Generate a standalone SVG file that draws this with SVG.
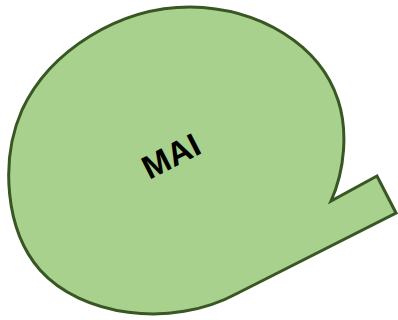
<svg xmlns="http://www.w3.org/2000/svg" width="398" height="320" viewBox="0 0 398 320">
<style>
.shape{fill:#a9d18e;stroke:#385723;stroke-width:3;stroke-linejoin:miter}
.lbl{font-family:"Liberation Sans",Arial,sans-serif;font-weight:bold;font-size:33px;fill:#000}
</style>
<g id="callout">
<path class="shape" d="M 331,201 C 345,170 348,130 338,100 C 320,45 260,8 190,7 C 120,7 50,50 22,110 C 0,160 5,230 40,270 C 80,315 170,330 238,293 L 396,213 L 377,176 Z"/>
<text class="lbl" x="171" y="156" text-anchor="middle" dominant-baseline="central" transform="rotate(-27 171 156)">MAI</text>
</g>
</svg>
